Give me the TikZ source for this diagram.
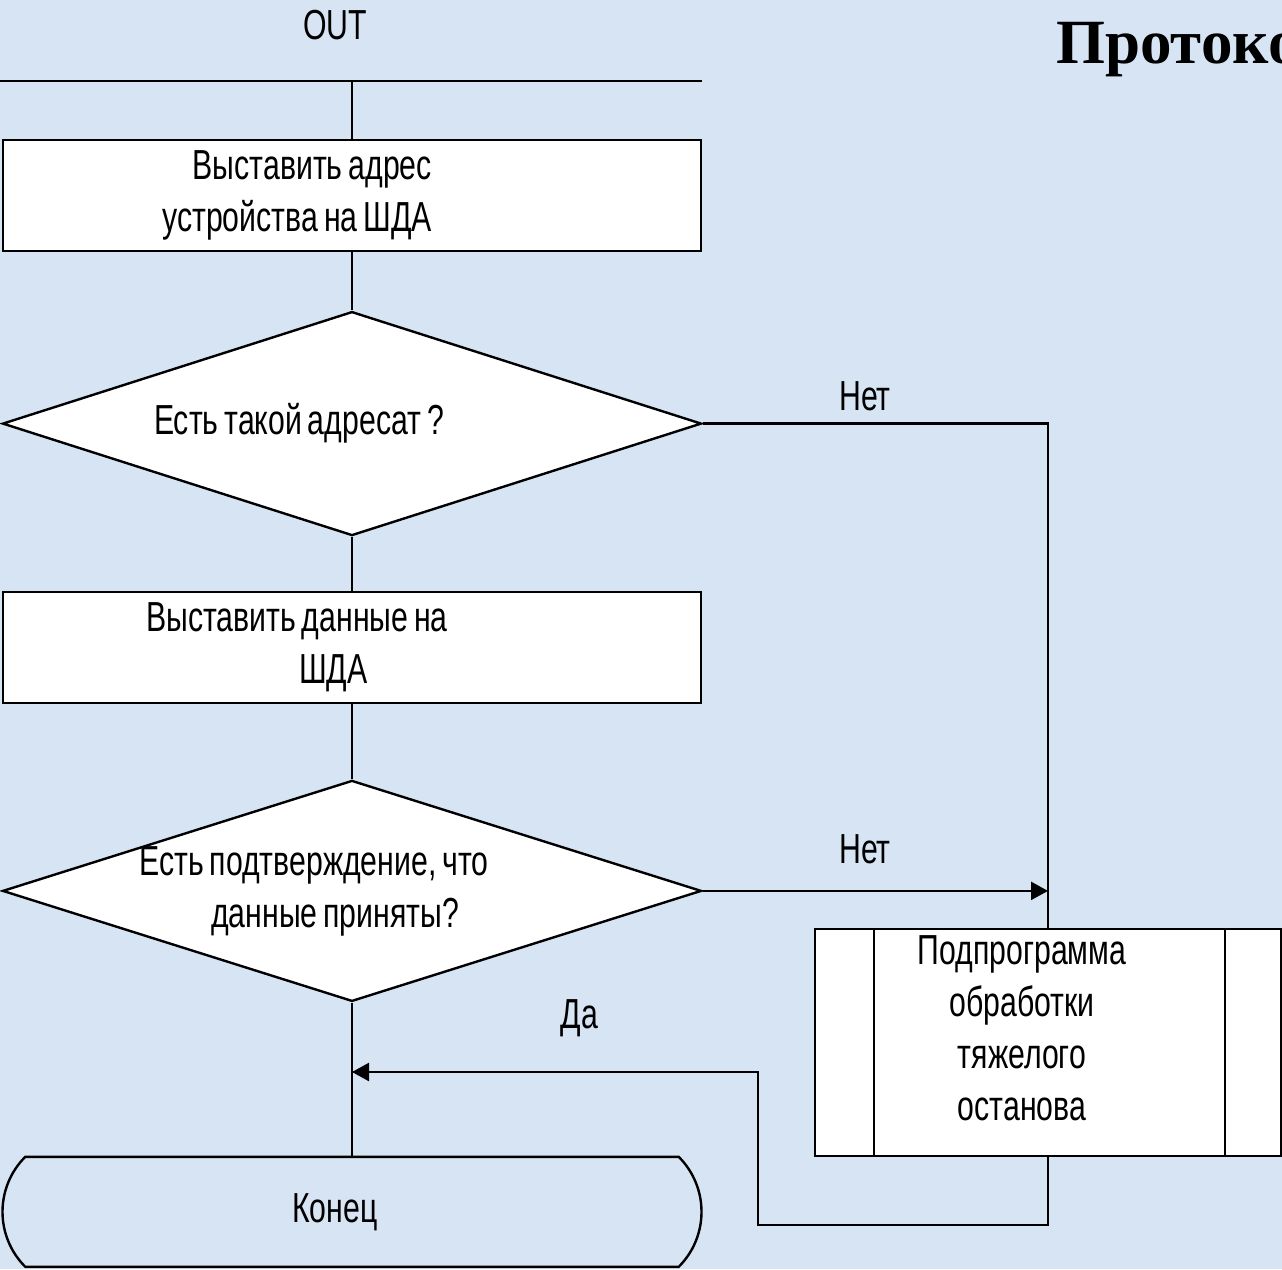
\documentclass[tikz,border=0pt]{standalone}
\usepackage{fontspec}
\setmainfont{Liberation Serif}
\newfontfamily\narrowfont[FakeStretch=0.72,WordSpace=0.7]{Liberation Sans}
\usetikzlibrary{arrows.meta,positioning,shapes.geometric,shapes.misc}
\definecolor{bgblue}{RGB}{215,228,244}

\begin{document}
\begin{tikzpicture}[
	x=1pt, y=-1pt,
	line width=2.4pt,
	mytext/.style={
		font=\narrowfont\fontsize{42}{52}\selectfont,
		inner sep=0pt},
	procbox/.style={
		rectangle,
		draw=black,
		fill=white,
		minimum width=698pt,
		minimum height=111pt,
		inner sep=0pt},
	decision/.style={
		diamond,
		draw=black,
		fill=white,
		minimum width=699pt,
		minimum height=224pt,
		inner sep=0pt},
	subbox/.style={
		rectangle,
		draw=black,
		fill=white,
		minimum width=466pt,
		minimum height=227pt,
		inner sep=0pt},
	endbox/.style={
		rounded rectangle,
		rounded rectangle arc length=90,
		draw=black,
		minimum width=699pt,
		minimum height=110pt,
		inner sep=0pt},
	mylabel/.style={mytext, anchor=base},
	myarrow/.style={-{Triangle[length=17pt,width=18pt]}}
	]
	\useasboundingbox (0,0) rectangle (1282,1269);
	\fill[bgblue] (0,0) rectangle (1282,1269);
	\clip (0,0) rectangle (1282,1269);
	
	\node[anchor=base west, inner sep=0pt,
		font=\fontsize{63}{70}\selectfont\bfseries] (title) at (1055,63) {Протокол};
	
	\node[mylabel] (tOut) at (335,39) {OUT};
	\coordinate (busL) at (0,81);
	\coordinate (busR) at (702,81);
	\coordinate (busM) at (352,81);
	
	\node[procbox, below=58pt of busM] (bAddr) {};
	\node[decision, below=58pt of bAddr] (dAddr) {};
	\node[procbox, below=54pt of dAddr] (bData) {};
	\node[decision, below=75pt of bData, minimum height=221pt] (dAck) {};
	\node[endbox, below=153pt of dAck] (end) {};
	\node[subbox] (sub) at (1048,1042.5) {};
	\draw ([xshift=60pt]sub.north west) -- ([xshift=60pt]sub.south west);
	\draw ([xshift=-57pt]sub.north east) -- ([xshift=-57pt]sub.south east);
	
	\node[mytext, align=right, anchor=east] (tAddr) at ([xshift=81pt]bAddr.center)
		{Выставить адрес\\устройства на ШДА};
	\node[mytext] (tAsk) at ([xshift=-53pt]dAddr.center) {Есть такой адресат ?};
	\node[mytext, align=left, anchor=west] (tData) at ([xshift=-207pt]bData.center)
		{Выставить данные на\\\hspace*{153pt}ШДА};
	\node[mytext, align=left, anchor=west] (tAck) at ([xshift=-214pt]dAck.center)
		{Есть подтверждение, что\\\hspace*{72pt}данные приняты?};
	\node[mytext, align=center] (tSub) at ([xshift=-26pt,yshift=14pt]sub.center)
		{Подпрограмма\\обработки\\тяжелого\\останова};
	\node[mytext] (tEnd) at ([xshift=-17pt]end.center) {Конец};
	
	\coordinate (jNo) at (sub.north |- dAck.east);
	\coordinate (yLevel) at (0,1072);
	\coordinate (jYes) at (dAck.south |- yLevel);
	\coordinate (cLoop) at (758,1225);
	
	\draw (busL) -- (busR);
	\foreach \i/\j in {busM/bAddr, bAddr/dAddr, dAddr/bData, bData/dAck, dAck/end}
	\draw (\i) -- (\j);
	
	\draw (dAddr.east) -| node[mylabel, pos=0.235, yshift=13pt] {Нет} (sub.north);
	\draw[myarrow] (dAck.east) -- node[mylabel, pos=0.47, yshift=27pt] {Нет} (jNo);
	\draw[myarrow] (sub.south) |- (cLoop) |- node[mylabel, pos=0.72, yshift=44pt] {Да} (jYes);
	
\end{tikzpicture}
\end{document}
